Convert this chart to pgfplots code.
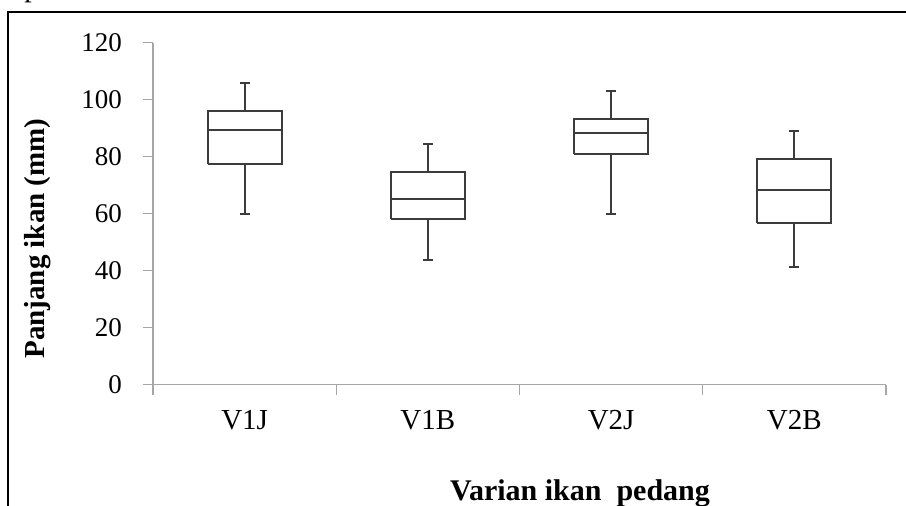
\documentclass[border=0pt]{standalone}
\usepackage{fontspec}
\setmainfont{Liberation Serif}
\usepackage{pgfplots}
\pgfplotsset{compat=1.18}
\definecolor{axisgray}{RGB}{166,166,166}
\definecolor{boxdark}{RGB}{60,60,60}
\pgfplotsset{boxline/.style={draw=boxdark, line width=1pt, solid, mark=none, line join=miter, forget plot}}
% \drawbox{position}{lower whisker}{lower quartile}{median}{upper quartile}{upper whisker}
\newcommand{\drawbox}[6]{%
  \addplot[boxline] coordinates {(#1-0.202,#3) (#1+0.202,#3) (#1+0.202,#5) (#1-0.202,#5) (#1-0.202,#3)};
  \addplot[boxline] coordinates {(#1-0.202,#4) (#1+0.202,#4)};
  \addplot[boxline] coordinates {(#1,#5) (#1,#6)};
  \addplot[boxline] coordinates {(#1,#3) (#1,#2)};
  \addplot[boxline] coordinates {(#1-0.0275,#6) (#1+0.0275,#6)};
  \addplot[boxline] coordinates {(#1-0.0275,#2) (#1+0.0275,#2)};
}
\begin{document}
\begin{tikzpicture}
% page = 906 x 506 px, 1 px = 0.5pt, y downwards negative
\useasboundingbox (0,0) rectangle (453pt,-253pt);
\clip (0,0) rectangle (453pt,-253pt);
% outer frame (only left and top edges are inside the picture)
\draw[black, line width=1.4pt] (4pt,-270pt) -- (4pt,-6pt) -- (470pt,-6pt);
\node[anchor=base, font=\fontsize{15}{18}\selectfont, inner sep=0pt] at (16pt,1.5pt) {p};
\begin{axis}[
  at={(76.5pt,-192.35pt)}, anchor=south west,
  scale only axis, width=366.5pt, height=171pt,
  xmin=-0.5, xmax=3.5, ymin=0, ymax=120,
  axis lines*=left,
  axis line style={axisgray, line width=0.7pt},
  ytick={0,20,...,120},
  xtick={0,1,2,3},
  xticklabels={V1J,V1B,V2J,V2B},
  minor xtick={-0.5,0.5,1.5,2.5,3.5},
  major x tick style={draw=none},
  tick style={axisgray, line width=0.7pt},
  tick align=outside,
  major tick length=5pt, minor tick length=5pt,
  /pgf/number format/assume math mode=true,
  yticklabel style={font=\fontsize{13.5}{16}\selectfont, xshift=-7pt},
  xticklabel style={font=\fontsize{14.5}{17}\selectfont, yshift=-4.5pt},
  clip=false,
]
\drawbox{0}{59.9}{77.5}{89.2}{96.0}{105.9}  % V1J
\drawbox{1}{43.7}{58.0}{65.2}{74.7}{84.6}   % V1B
\drawbox{2}{59.9}{80.8}{88.3}{93.1}{103.2}  % V2J
\drawbox{3}{41.4}{56.8}{68.4}{79.2}{89.1}   % V2B
\end{axis}
% axis titles
\node[anchor=base, rotate=90, inner sep=0pt, font=\bfseries\fontsize{14.5}{17}\selectfont]
  at (22.5pt,-119.25pt) {Panjang ikan (mm)};
\node[anchor=base, inner sep=0pt, font=\bfseries\fontsize{15}{18}\selectfont]
  at (290pt,-250.35pt) {Varian ikan\ \ pedang};
\end{tikzpicture}
\end{document}
